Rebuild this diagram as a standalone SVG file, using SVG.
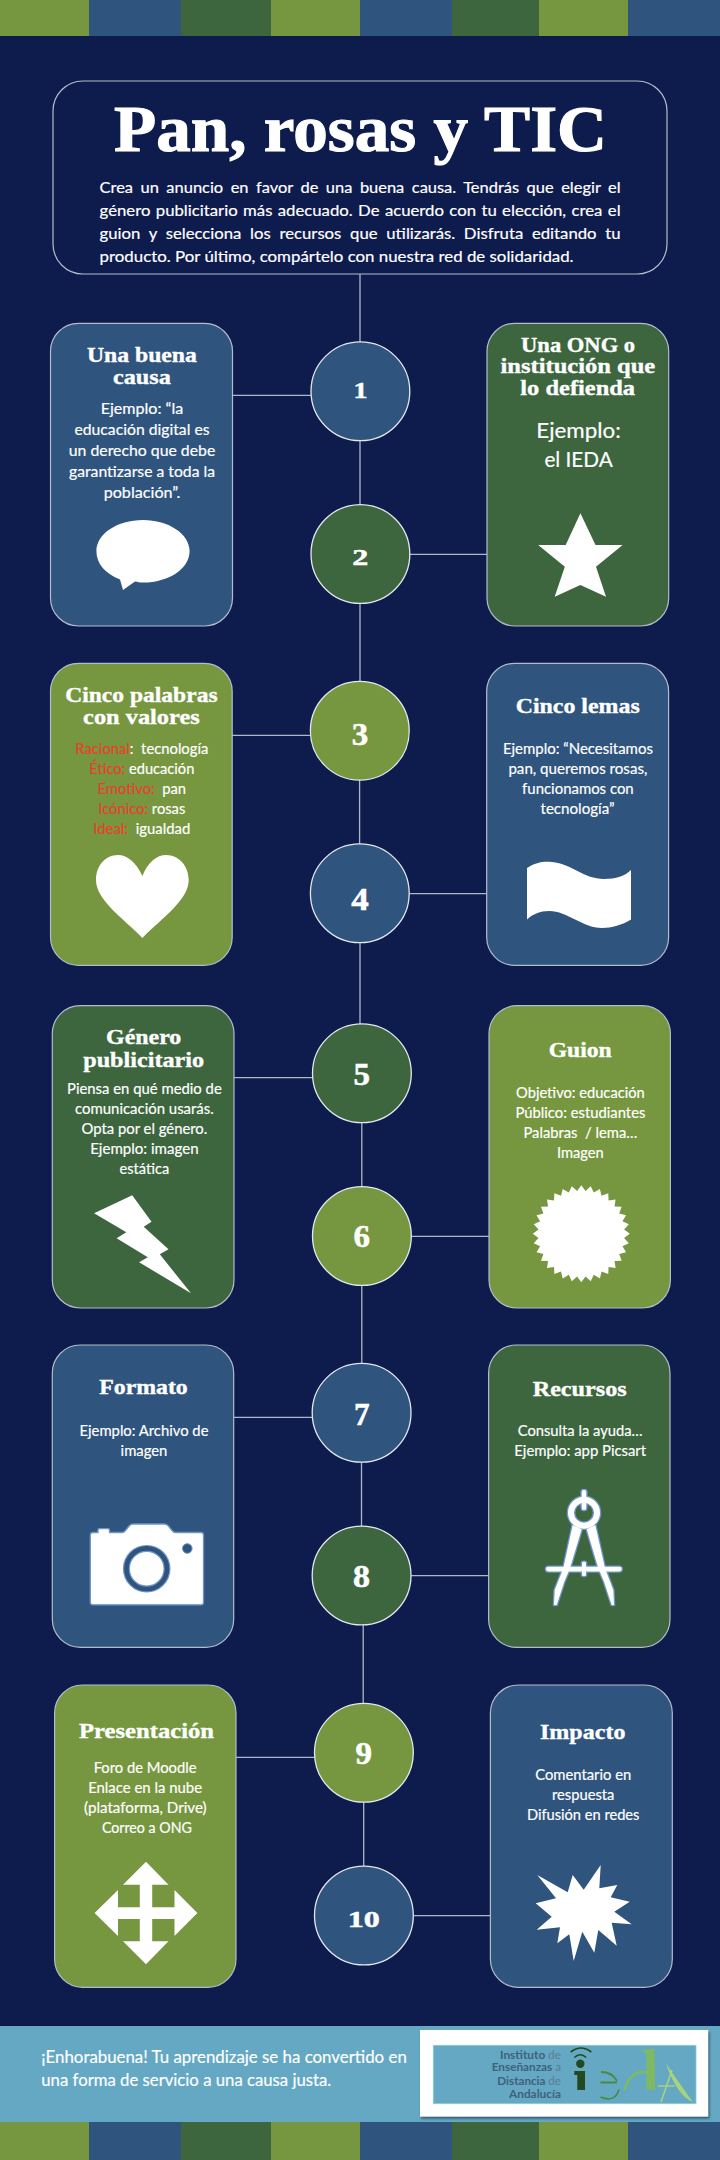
<svg xmlns="http://www.w3.org/2000/svg" width="720" height="2160" viewBox="0 0 720 2160">
<style>
.g{fill:#76973f}.b{fill:#2f547e}.d{fill:#3d663f}
.card{stroke:#b4bccb;stroke-width:1.2}
.hub{stroke:#e4e8ee;stroke-width:1.3}
.t{font-family:"Liberation Serif","DejaVu Serif",serif;font-weight:700;font-size:21px;fill:#fff;stroke:#fff;stroke-width:.35;text-anchor:middle}
.n{font-family:"Liberation Serif","DejaVu Serif",serif;font-weight:700;font-size:31px;fill:#fff;stroke:#fff;stroke-width:.5;text-anchor:middle}
.s{font-size:24px}
.x{font-family:Lato,"Noto Sans",sans-serif;font-size:15px;fill:#fff;stroke:#fff;stroke-width:.18;text-anchor:middle;white-space:pre}
.l{text-anchor:start}
.r{fill:#e8402a;stroke:#e8402a}
.big{font-size:21px}
.lg{font-family:Lato,"Noto Sans",sans-serif;font-size:11.5px;font-weight:700;fill:#40617a}
.lg tspan{font-weight:400;fill:#5a7d92}
.c{stroke:#aeb6ca;stroke-width:1.3;fill:none}
.w{fill:#fff}
</style>
<defs>
<filter id="sh" x="-5%" y="-10%" width="110%" height="125%"><feGaussianBlur stdDeviation="1.2"/></filter>
<g id="compass">
<rect x="581.7" y="1490" width="4.6" height="20" rx="2"/>
<path fill-rule="evenodd" d="M568 1512.7a16 16 0 1 0 32 0a16 16 0 1 0-32 0ZM574 1512.7a10 10 0 1 1 20 0a10 10 0 1 1-20 0Z"/>
<polygon points="572.7,1525 581.7,1529.3 570,1568.3 564.3,1581.7 556.7,1605 554,1605 554.7,1590 563.3,1568.3"/>
<polygon points="595.3,1525 586.7,1529.3 598.3,1568.3 604,1581.7 611.7,1605 614,1605 613.3,1590 605,1568.3"/>
<rect x="546" y="1566.7" width="75.7" height="4.7" rx="2.3"/>
<rect x="582" y="1561.7" width="4" height="14.3" rx="1.5"/>
</g>
</defs>

<rect width="720" height="2160" fill="#0e1b4d"/>

<g id="band-top">
<rect class="g" x="0" y="0" width="89" height="36"/><rect class="b" x="89" y="0" width="92" height="36"/><rect class="d" x="181" y="0" width="90" height="36"/><rect class="g" x="271" y="0" width="89" height="36"/><rect class="b" x="360" y="0" width="92" height="36"/><rect class="d" x="452" y="0" width="87" height="36"/><rect class="g" x="539" y="0" width="89" height="36"/><rect class="b" x="628" y="0" width="92" height="36"/>
</g>

<g id="connectors" class="c">
<path d="M360 274V342M360 441V504M360 603V681M359.6 780V844M360 943V1024M361.8 1123V1187M361.8 1285V1363M361.5 1462V1526M363.2 1625V1703M363.7 1802V1866"/>
<path d="M232 395.3H311M409 554.3H487M232 735.3H311M409 893.7H487M234 1077.7H313M411 1236.3H489M234 1417.3H313M411 1575.7H489M236 1757.3H315M413 1915.7H491"/>
</g>

<g id="header">
<rect x="53" y="81" width="614" height="193" rx="30" fill="#0e1b4d" stroke="#b4bccb" stroke-width="1.2"/>
<text class="t" x="360.5" y="151" style="font-size:65px;stroke-width:1.1" textLength="493" lengthAdjust="spacingAndGlyphs">Pan, rosas y TIC</text>
<text class="x l" x="99.6" y="193" word-spacing="3" textLength="521" lengthAdjust="spacingAndGlyphs">Crea un anuncio en favor de una buena causa. Tendrás que elegir el</text>
<text class="x l" x="99.6" y="216" word-spacing="1" textLength="521" lengthAdjust="spacingAndGlyphs">género publicitario más adecuado. De acuerdo con tu elección, crea el</text>
<text class="x l" x="99.6" y="239" word-spacing="4" textLength="521" lengthAdjust="spacingAndGlyphs">guion y selecciona los recursos que utilizarás. Disfruta editando tu</text>
<text class="x l" x="99.6" y="262" textLength="474" lengthAdjust="spacingAndGlyphs">producto. Por último, compártelo con nuestra red de solidaridad.</text>
</g>

<g id="hub-1"><circle class="b hub" cx="360.4" cy="391.3" r="49.4"/><text class="n s" x="360.5" y="398.3" textLength="14" lengthAdjust="spacingAndGlyphs">1</text></g>
<g id="hub-2"><circle class="d hub" cx="360.4" cy="554" r="49.4"/><text class="n s" x="360.2" y="565" textLength="16" lengthAdjust="spacingAndGlyphs">2</text></g>
<g id="hub-3"><circle class="g hub" cx="359.8" cy="730.7" r="49.4"/><text class="n" x="360" y="745" textLength="16.5" lengthAdjust="spacingAndGlyphs">3</text></g>
<g id="hub-4"><circle class="b hub" cx="359.8" cy="893.3" r="49.4"/><text class="n" x="360" y="910" textLength="17.5" lengthAdjust="spacingAndGlyphs">4</text></g>
<g id="hub-5"><circle class="d hub" cx="361.9" cy="1073.3" r="49.4"/><text class="n" x="361.8" y="1085" textLength="16.5" lengthAdjust="spacingAndGlyphs">5</text></g>
<g id="hub-6"><circle class="g hub" cx="361.9" cy="1236" r="49.4"/><text class="n" x="361.8" y="1246.7" textLength="16.5" lengthAdjust="spacingAndGlyphs">6</text></g>
<g id="hub-7"><circle class="b hub" cx="361.6" cy="1412.8" r="49.4"/><text class="n" x="361.8" y="1425" textLength="15.6" lengthAdjust="spacingAndGlyphs">7</text></g>
<g id="hub-8"><circle class="d hub" cx="361.6" cy="1575.5" r="49.4"/><text class="n" x="361.6" y="1586.7" textLength="17" lengthAdjust="spacingAndGlyphs">8</text></g>
<g id="hub-9"><circle class="g hub" cx="363.9" cy="1752.8" r="49.4"/><text class="n" x="363.7" y="1764.3" textLength="16.5" lengthAdjust="spacingAndGlyphs">9</text></g>
<g id="hub-10"><circle class="b hub" cx="363.9" cy="1915.5" r="49.4"/><text class="n s" x="363.7" y="1926.7" textLength="32" lengthAdjust="spacingAndGlyphs">10</text></g>

<g id="card-1">
<rect class="b card" x="50.5" y="323.3" width="182" height="302.7" rx="28"/>
<text class="t" x="141.9" y="361.7" textLength="110" lengthAdjust="spacingAndGlyphs">Una buena</text>
<text class="t" x="141.9" y="384" textLength="58" lengthAdjust="spacingAndGlyphs">causa</text>
<text class="x" x="142" y="414" textLength="82.6" lengthAdjust="spacingAndGlyphs">Ejemplo: “la</text>
<text class="x" x="142" y="435" textLength="135" lengthAdjust="spacingAndGlyphs">educación digital es</text>
<text class="x" x="142" y="456" textLength="146.5" lengthAdjust="spacingAndGlyphs">un derecho que debe</text>
<text class="x" x="142" y="476.7" textLength="146" lengthAdjust="spacingAndGlyphs">garantizarse a toda la</text>
<text class="x" x="142" y="497.7" textLength="76.7" lengthAdjust="spacingAndGlyphs">población”.</text>
<path class="w" d="M143 520C117 520 96.4 534 96.4 551.2C96.4 564 106 574 120 579.5L123 590L135 581.5C137.5 582 140 582.5 143 582.5C168.8 582.5 189.6 568.5 189.6 551.2C189.6 534 168.8 520 143 520Z"/>
</g>

<g id="card-2">
<rect class="d card" x="487" y="323.3" width="181.7" height="302.7" rx="28"/>
<text class="t" x="578.1" y="351.7" textLength="114" lengthAdjust="spacingAndGlyphs">Una ONG o</text>
<text class="t" x="577.9" y="373.3" textLength="154.7" lengthAdjust="spacingAndGlyphs">institución que</text>
<text class="t" x="577.7" y="395" textLength="114.8" lengthAdjust="spacingAndGlyphs">lo defienda</text>
<text class="x big" x="578.6" y="437.7" textLength="84.5" lengthAdjust="spacingAndGlyphs">Ejemplo:</text>
<text class="x big" x="578.6" y="466.7" textLength="68.4" lengthAdjust="spacingAndGlyphs">el IEDA</text>
<polygon class="w" points="580.4,513.3 595.5,545 622.6,545 596,566.7 606,596.7 580.4,585 554.7,596.7 564.8,566.7 538.2,545 565.7,545"/>
</g>

<g id="card-3">
<rect class="g card" x="50.5" y="663.3" width="181.7" height="302" rx="28"/>
<text class="t" x="141.4" y="701.7" textLength="152.4" lengthAdjust="spacingAndGlyphs">Cinco palabras</text>
<text class="t" x="141.4" y="724" textLength="116.6" lengthAdjust="spacingAndGlyphs">con valores</text>
<text class="x" x="141.8" y="754" textLength="133" lengthAdjust="spacingAndGlyphs"><tspan class="r">Racional</tspan>:  tecnología</text>
<text class="x" x="141.8" y="774" textLength="105" lengthAdjust="spacingAndGlyphs"><tspan class="r">Ético:</tspan> educación</text>
<text class="x" x="141.8" y="794" textLength="88.6" lengthAdjust="spacingAndGlyphs"><tspan class="r">Emotivo:</tspan>  pan</text>
<text class="x" x="141.8" y="814" textLength="87" lengthAdjust="spacingAndGlyphs"><tspan class="r">Icónico:</tspan> rosas</text>
<text class="x" x="141.8" y="834" textLength="97" lengthAdjust="spacingAndGlyphs"><tspan class="r">Ideal:</tspan>  igualdad</text>
<path class="w" d="M142.4 876C136 862 127 855 118 855C105 855 96 866 96 880C96 900 122 917 142.4 938C163 917 188.7 900 188.7 880C188.7 866 179 855 166 855C157 855 148 862 142.4 876Z"/>
</g>

<g id="card-4">
<rect class="b card" x="486.7" y="663.3" width="181.9" height="302" rx="28"/>
<text class="t" x="577.7" y="712.7" textLength="124" lengthAdjust="spacingAndGlyphs">Cinco lemas</text>
<text class="x" x="577.9" y="754" textLength="150" lengthAdjust="spacingAndGlyphs">Ejemplo: “Necesitamos</text>
<text class="x" x="577.9" y="774" textLength="139" lengthAdjust="spacingAndGlyphs">pan, queremos rosas,</text>
<text class="x" x="577.9" y="794" textLength="111.6" lengthAdjust="spacingAndGlyphs">funcionamos con</text>
<text class="x" x="577.5" y="814" textLength="74" lengthAdjust="spacingAndGlyphs">tecnología”</text>
<path class="w" d="M527 868C536 862 544 861 552 862C572 864 584 879 604 879C616 879 625 876 631 870V919.5C622 925 612 928 602 928C582 928 568 911 549 911C540 911 533 914 527 919.5Z"/>
</g>

<g id="card-5">
<rect class="d card" x="52.3" y="1005.7" width="181.7" height="302.3" rx="28"/>
<text class="t" x="143.7" y="1044.3" textLength="75.3" lengthAdjust="spacingAndGlyphs">Género</text>
<text class="t" x="143.7" y="1066.7" textLength="121" lengthAdjust="spacingAndGlyphs">publicitario</text>
<text class="x" x="144.4" y="1094" textLength="154.7" lengthAdjust="spacingAndGlyphs">Piensa en qué medio de</text>
<text class="x" x="144.4" y="1114" textLength="138.7" lengthAdjust="spacingAndGlyphs">comunicación usarás.</text>
<text class="x" x="144.4" y="1134" textLength="125.8" lengthAdjust="spacingAndGlyphs">Opta por el género.</text>
<text class="x" x="144.4" y="1154" textLength="108.4" lengthAdjust="spacingAndGlyphs">Ejemplo: imagen</text>
<text class="x" x="144.4" y="1174" textLength="49.6" lengthAdjust="spacingAndGlyphs">estática</text>
<polygon class="w" points="94.1,1213.3 132.2,1195.3 151.5,1221.7 143.7,1226.7 168.5,1249.3 159.8,1254.3 191,1293.3 139.1,1262.3 147.8,1257.3 116.6,1238.3 126.3,1232.3"/>
</g>

<g id="card-6">
<rect class="g card" x="489" y="1005.7" width="181.4" height="302.3" rx="28"/>
<text class="t" x="580.2" y="1056.7" textLength="63" lengthAdjust="spacingAndGlyphs">Guion</text>
<text class="x" x="580.4" y="1097.7" textLength="128.6" lengthAdjust="spacingAndGlyphs">Objetivo: educación</text>
<text class="x" x="580.4" y="1118" textLength="130" lengthAdjust="spacingAndGlyphs">Público: estudiantes</text>
<text class="x" x="580.4" y="1138" textLength="113.9" lengthAdjust="spacingAndGlyphs">Palabras  / lema…</text>
<text class="x" x="580.4" y="1158" textLength="46.8" lengthAdjust="spacingAndGlyphs">Imagen</text>
<polygon class="w" transform="translate(581.3 1233.7)" points="48.5,0 42.79,4.21 47.57,9.46 41.15,12.48 44.81,18.56 37.92,20.27 40.33,26.95 33.24,27.28 34.29,34.29 27.28,33.24 26.95,40.33 20.27,37.92 18.56,44.81 12.48,41.15 9.46,47.57 4.21,42.79 0,48.5 -4.21,42.79 -9.46,47.57 -12.48,41.15 -18.56,44.81 -20.27,37.92 -26.95,40.33 -27.28,33.24 -34.29,34.29 -33.24,27.28 -40.33,26.95 -37.92,20.27 -44.81,18.56 -41.15,12.48 -47.57,9.46 -42.79,4.21 -48.5,0 -42.79,-4.21 -47.57,-9.46 -41.15,-12.48 -44.81,-18.56 -37.92,-20.27 -40.33,-26.95 -33.24,-27.28 -34.29,-34.29 -27.28,-33.24 -26.95,-40.33 -20.27,-37.92 -18.56,-44.81 -12.48,-41.15 -9.46,-47.57 -4.21,-42.79 0,-48.5 4.21,-42.79 9.46,-47.57 12.48,-41.15 18.56,-44.81 20.27,-37.92 26.95,-40.33 27.28,-33.24 34.29,-34.29 33.24,-27.28 40.33,-26.95 37.92,-20.27 44.81,-18.56 41.15,-12.48 47.57,-9.46 42.79,-4.21"/>
</g>

<g id="card-7">
<rect class="b card" x="52.3" y="1345" width="181.4" height="302.3" rx="28"/>
<text class="t" x="143.5" y="1394" textLength="88.6" lengthAdjust="spacingAndGlyphs">Formato</text>
<text class="x" x="144" y="1436" textLength="129" lengthAdjust="spacingAndGlyphs">Ejemplo: Archivo de</text>
<text class="x" x="144" y="1456" textLength="46.8" lengthAdjust="spacingAndGlyphs">imagen</text>
<path class="w" stroke="#6f96c8" stroke-width="1.3" d="M93 1532.5H98V1530Q98 1528.7 99.5 1528.7H108Q109.5 1528.7 109.5 1530V1532.5H122Q124 1532.5 125.5 1530.5L129.5 1525.5Q131 1524 133.5 1524H164Q166.5 1524 168 1525.5L172 1530.5Q173.5 1532.5 175.5 1532.5H201Q203.5 1532.5 203.5 1535V1602.5Q203.5 1604.8 201 1604.8H93Q90.3 1604.8 90.3 1602.5V1535Q90.3 1532.5 93 1532.5Z"/>
<circle cx="146.7" cy="1568.7" r="20.3" fill="none" stroke="#6f96c8" stroke-width="7"/>
<circle cx="146.7" cy="1568.7" r="20.3" fill="none" stroke="#2f547e" stroke-width="4.6"/>
<circle cx="187.3" cy="1548.5" r="4.8" fill="#2f547e" stroke="#6f96c8" stroke-width="1"/>
</g>

<g id="card-8">
<rect class="d card" x="488.6" y="1345" width="181.4" height="302.3" rx="28"/>
<text class="t" x="579.7" y="1395.7" textLength="94" lengthAdjust="spacingAndGlyphs">Recursos</text>
<text class="x" x="580.2" y="1436" textLength="125" lengthAdjust="spacingAndGlyphs">Consulta la ayuda…</text>
<text class="x" x="580.2" y="1456" textLength="131.8" lengthAdjust="spacingAndGlyphs">Ejemplo: app Picsart</text>
<use href="#compass" fill="#6f96c8" stroke="#6f96c8" stroke-width="2.6" stroke-linejoin="round"/>
<use href="#compass" fill="#fff"/>
</g>

<g id="card-9">
<rect class="g card" x="54.6" y="1685" width="181.4" height="302.3" rx="28"/>
<text class="t" x="146.5" y="1737.7" textLength="135" lengthAdjust="spacingAndGlyphs">Presentación</text>
<text class="x" x="145.1" y="1772.7" textLength="102.9" lengthAdjust="spacingAndGlyphs">Foro de Moodle</text>
<text class="x" x="145.1" y="1792.7" textLength="113.9" lengthAdjust="spacingAndGlyphs">Enlace en la nube</text>
<text class="x" x="145.3" y="1812.7" textLength="122.6" lengthAdjust="spacingAndGlyphs">(plataforma, Drive)</text>
<text class="x" x="146.9" y="1832.7" textLength="90" lengthAdjust="spacingAndGlyphs">Correo a ONG</text>
<polygon class="w" points="146,1861.7 168.5,1884.7 152.2,1884.7 152.2,1907.2 174.5,1907.2 174.5,1890 197.4,1913 174.5,1936 174.5,1919 152.2,1919 152.2,1941.3 168.5,1941.3 146,1964.3 123,1941.3 139.8,1941.3 139.8,1919 118,1919 118,1936 94.6,1913 118,1890 118,1907.2 139.8,1907.2 139.8,1884.7 123,1884.7"/>
</g>

<g id="card-10">
<rect class="b card" x="490.4" y="1685" width="181.9" height="302.3" rx="28"/>
<text class="t" x="582.7" y="1739" textLength="85.4" lengthAdjust="spacingAndGlyphs">Impacto</text>
<text class="x" x="583.2" y="1780" textLength="96" lengthAdjust="spacingAndGlyphs">Comentario en</text>
<text class="x" x="583.2" y="1800" textLength="62.4" lengthAdjust="spacingAndGlyphs">respuesta</text>
<text class="x" x="583.2" y="1820" textLength="112.5" lengthAdjust="spacingAndGlyphs">Difusión en redes</text>
<polygon class="w" points="537.3,1875 567.7,1892.3 572.7,1875 583.7,1889.7 600.7,1865 599.3,1888.3 617.3,1885 610.7,1897.3 629.7,1901.7 614.3,1911.7 631.7,1924.3 611.7,1922.7 616.7,1945.7 598.3,1930 594.3,1952.7 582.3,1931.7 573.7,1961 569.3,1934.3 557.3,1943.3 560,1927.3 536.7,1929.7 551.7,1916.7 535.7,1903.3 556,1898.3"/>
</g>

<g id="footer">
<rect x="0" y="2026" width="720" height="96" fill="#64a8c4"/>
<text class="x l" x="41.3" y="2063" style="font-size:17px" textLength="365.5" lengthAdjust="spacingAndGlyphs">¡Enhorabuena! Tu aprendizaje se ha convertido en</text>
<text class="x l" x="41.3" y="2086" style="font-size:17px" textLength="290" lengthAdjust="spacingAndGlyphs">una forma de servicio a una causa justa.</text>
</g>

<g id="band-bottom">
<rect class="g" x="0" y="2122" width="89" height="38"/><rect class="b" x="89" y="2122" width="92" height="38"/><rect class="d" x="181" y="2122" width="90" height="38"/><rect class="g" x="271" y="2122" width="89" height="38"/><rect class="b" x="360" y="2122" width="92" height="38"/><rect class="d" x="452" y="2122" width="87" height="38"/><rect class="g" x="539" y="2122" width="89" height="38"/><rect class="b" x="628" y="2122" width="92" height="38"/>
</g>

<g id="logo">
<rect x="421" y="2032" width="288.5" height="86.5" fill="#1f2f45" opacity=".65" filter="url(#sh)"/>
<rect x="420" y="2030" width="288.3" height="86.7" fill="#fff"/>
<rect x="433.3" y="2045.3" width="262.7" height="58.4" fill="#64a8c4" stroke="#8ccbe0" stroke-width=".8"/>
<text class="lg" x="500" y="2058.7" textLength="61" lengthAdjust="spacingAndGlyphs">Instituto <tspan>de</tspan></text>
<text class="lg" x="491.7" y="2071" textLength="69.3" lengthAdjust="spacingAndGlyphs">Enseñanzas <tspan>a</tspan></text>
<text class="lg" x="497.3" y="2085" textLength="63.7" lengthAdjust="spacingAndGlyphs">Distancia <tspan>de</tspan></text>
<text class="lg" x="509" y="2097.7" textLength="52" lengthAdjust="spacingAndGlyphs">Andalucía</text>
<g fill="none" stroke="#234a1f" stroke-width="1.6">
<path d="M570.7 2052Q581 2044 591.3 2052"/>
<path d="M574.3 2057.5Q580.3 2052 586.3 2057.5"/>
</g>
<circle cx="580.3" cy="2063.7" r="4.2" fill="#234a1f"/>
<path d="M574.3 2071H585V2090H577.3V2075H574.3Z" fill="#234a1f"/>
<g fill="none" stroke="#4a8a3c">
<path stroke-width="1.8" d="M600.5 2082.5H617M601 2072Q612 2072 617 2081"/>
<path stroke-width="1.6" d="M600.5 2097Q615 2103 619 2089.5"/>
</g>
<path d="M625 2090C626 2079 638 2067 650 2074" fill="none" stroke="#7fba62" stroke-width="2.6"/>
<path d="M641.5 2050L654.5 2048.7L655 2089.5L646.5 2089.5L646.5 2054Z" fill="#7fba62"/>
<path d="M666 2063.5C676 2078 684 2090 693 2102C682 2098 672 2082 666 2063.5Z" fill="#a6d47c"/>
<path d="M661 2102L672 2070" fill="none" stroke="#a6d47c" stroke-width="1.6"/>
<path d="M658 2086H675" fill="none" stroke="#a6d47c" stroke-width="1.4"/>
</g>
</svg>
